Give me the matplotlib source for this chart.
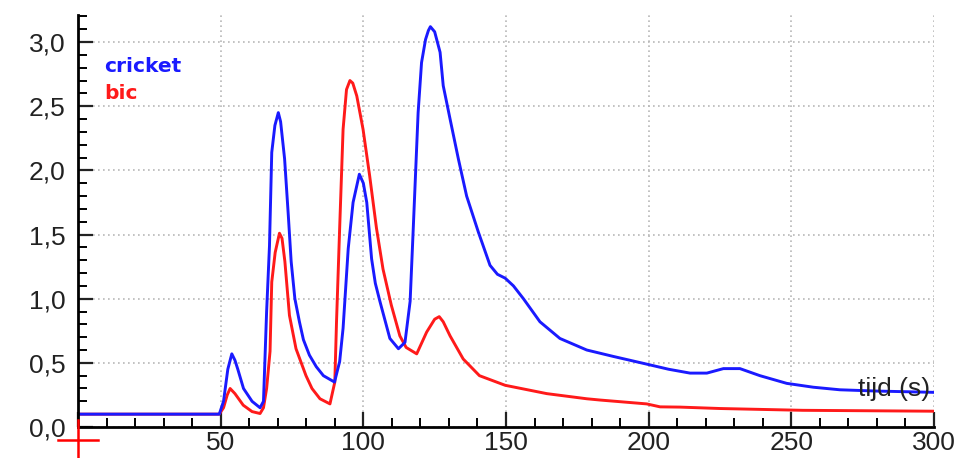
import matplotlib
matplotlib.use('Agg')
import matplotlib.pyplot as plt
from matplotlib.ticker import MultipleLocator, FuncFormatter
from matplotlib.lines import Line2D

# tijd (s) and signal values
cricket_t = [0, 49.5, 51, 52.5, 53.9, 55, 56, 58, 61, 63.8, 65, 66.1, 67.1, 67.9,
             69, 70.2, 71, 72.4, 73.7, 74.7, 76, 77.6, 79, 81.1, 83.5, 86, 89.9,
             91.7, 92.9, 94.7, 96.4, 98.6, 100, 101.2, 102.9, 104.2, 105.8, 109.3,
             112.3, 114.6, 116.4, 117.5, 119.2, 120.4, 121.8, 122.8, 123.5, 125,
             126.9, 128, 130.4, 133.3, 136.2, 140.3, 144.4, 147, 149.7, 152.6,
             156.1, 161.9, 168.9, 178.3, 187.6, 199.3, 207, 214.5, 220.4, 226.2,
             232, 239, 248.4, 257.7, 267, 280, 300]
cricket = [0.10, 0.10, 0.20, 0.45, 0.57, 0.52, 0.45, 0.30, 0.20, 0.15, 0.20,
           0.90, 1.41, 2.14, 2.35, 2.45, 2.38, 2.09, 1.65, 1.29, 1.00, 0.82, 0.68,
           0.56, 0.47, 0.40, 0.35, 0.51, 0.77, 1.39, 1.75, 1.97, 1.90, 1.75, 1.31,
           1.12, 0.98, 0.69, 0.61, 0.66, 0.98, 1.55, 2.45, 2.84, 3.02, 3.09, 3.12,
           3.08, 2.92, 2.66, 2.40, 2.09, 1.80, 1.52, 1.26, 1.19, 1.16, 1.10, 1.00,
           0.82, 0.69, 0.60, 0.55, 0.49, 0.45, 0.42, 0.42, 0.455, 0.455, 0.40,
           0.34, 0.31, 0.29, 0.28, 0.27]

bic_t = [0, 49.5, 51, 52.3, 53.3, 55, 57.9, 61, 63.8, 65, 66.1, 67.3, 67.9, 69.1,
         70.6, 71.5, 72.5, 74.1, 76.4, 79.9, 82, 84.8, 88.3, 90, 90.6, 91.7,
         92.9, 94.1, 95.3, 96.3, 97.7, 99.9, 102.2, 104.6, 106.9, 109.8, 112.8,
         115, 118.7, 122.2, 125, 126.6, 128, 130.4, 135, 140.7, 147.9, 149.7,
         164.3, 178.3, 183, 199.3, 204, 211, 225, 254, 300]
bic = [0.10, 0.10, 0.15, 0.25, 0.30, 0.26, 0.17, 0.12, 0.105, 0.15, 0.30, 0.59,
       1.13, 1.36, 1.51, 1.47, 1.29, 0.87, 0.61, 0.40, 0.30, 0.22, 0.18, 0.35,
       0.82, 1.55, 2.32, 2.63, 2.70, 2.68, 2.58, 2.32, 1.96, 1.55, 1.23, 0.95,
       0.71, 0.62, 0.57, 0.74, 0.84, 0.86, 0.82, 0.71, 0.53, 0.40, 0.34, 0.325,
       0.26, 0.22, 0.21, 0.18, 0.157, 0.155, 0.144, 0.13, 0.123]

plt.rcParams['font.family'] = ['Liberation Sans', 'DejaVu Sans']

fig = plt.figure(figsize=(9.79, 4.58), dpi=100)
ax = fig.add_axes([0.0797, 0.0677, 0.8743, 0.8993])

ax.plot(bic_t, bic, color='#ff1a1a', lw=2.1)
ax.plot(cricket_t, cricket, color='#1a1aff', lw=2.1)

ax.set_xlim(0, 300)
ax.set_ylim(0, 3.21)

ax.xaxis.set_major_locator(MultipleLocator(50))
ax.xaxis.set_minor_locator(MultipleLocator(10))
ax.yaxis.set_major_locator(MultipleLocator(0.5))
ax.yaxis.set_minor_locator(MultipleLocator(0.1))
ax.xaxis.set_major_formatter(FuncFormatter(lambda v, p: '' if v == 0 else f'{v:.0f}'))
ax.yaxis.set_major_formatter(FuncFormatter(lambda v, p: f'{v:.1f}'.replace('.', ',')))

ax.tick_params(which='major', direction='in', length=11, width=1.6, labelsize=19,
               colors='#222222')
ax.tick_params(axis='y', which='major', pad=9)
ax.tick_params(axis='x', which='major', pad=3)
ax.tick_params(which='minor', direction='in', length=6.5, width=1.4)

ax.grid(which='major', linestyle=(0, (1, 2)), color='#b8b8b8', lw=1.2)

for side in ['top', 'right']:
    ax.spines[side].set_visible(False)
for side in ['left', 'bottom']:
    ax.spines[side].set_linewidth(2)

ax.text(0.031, 0.898, 'cricket', transform=ax.transAxes, color='#1a1aff',
        fontsize=14.5, fontweight='bold', family='DejaVu Sans', va='top')
ax.text(0.031, 0.833, 'bic', transform=ax.transAxes, color='#ff1a1a',
        fontsize=14.5, fontweight='bold', family='DejaVu Sans', va='top')
ax.text(0.996, 0.092, 'tijd (s)', transform=ax.transAxes, color='#222222',
        fontsize=19, ha='right', va='center')

# red cross at the origin
fig.add_artist(Line2D([58 / 979, 98 / 979], [18 / 458, 18 / 458], color='red', lw=1.8))
fig.add_artist(Line2D([78 / 979, 78 / 979], [0, 38 / 458], color='red', lw=1.8))

fig.savefig('out.png', dpi=100)
